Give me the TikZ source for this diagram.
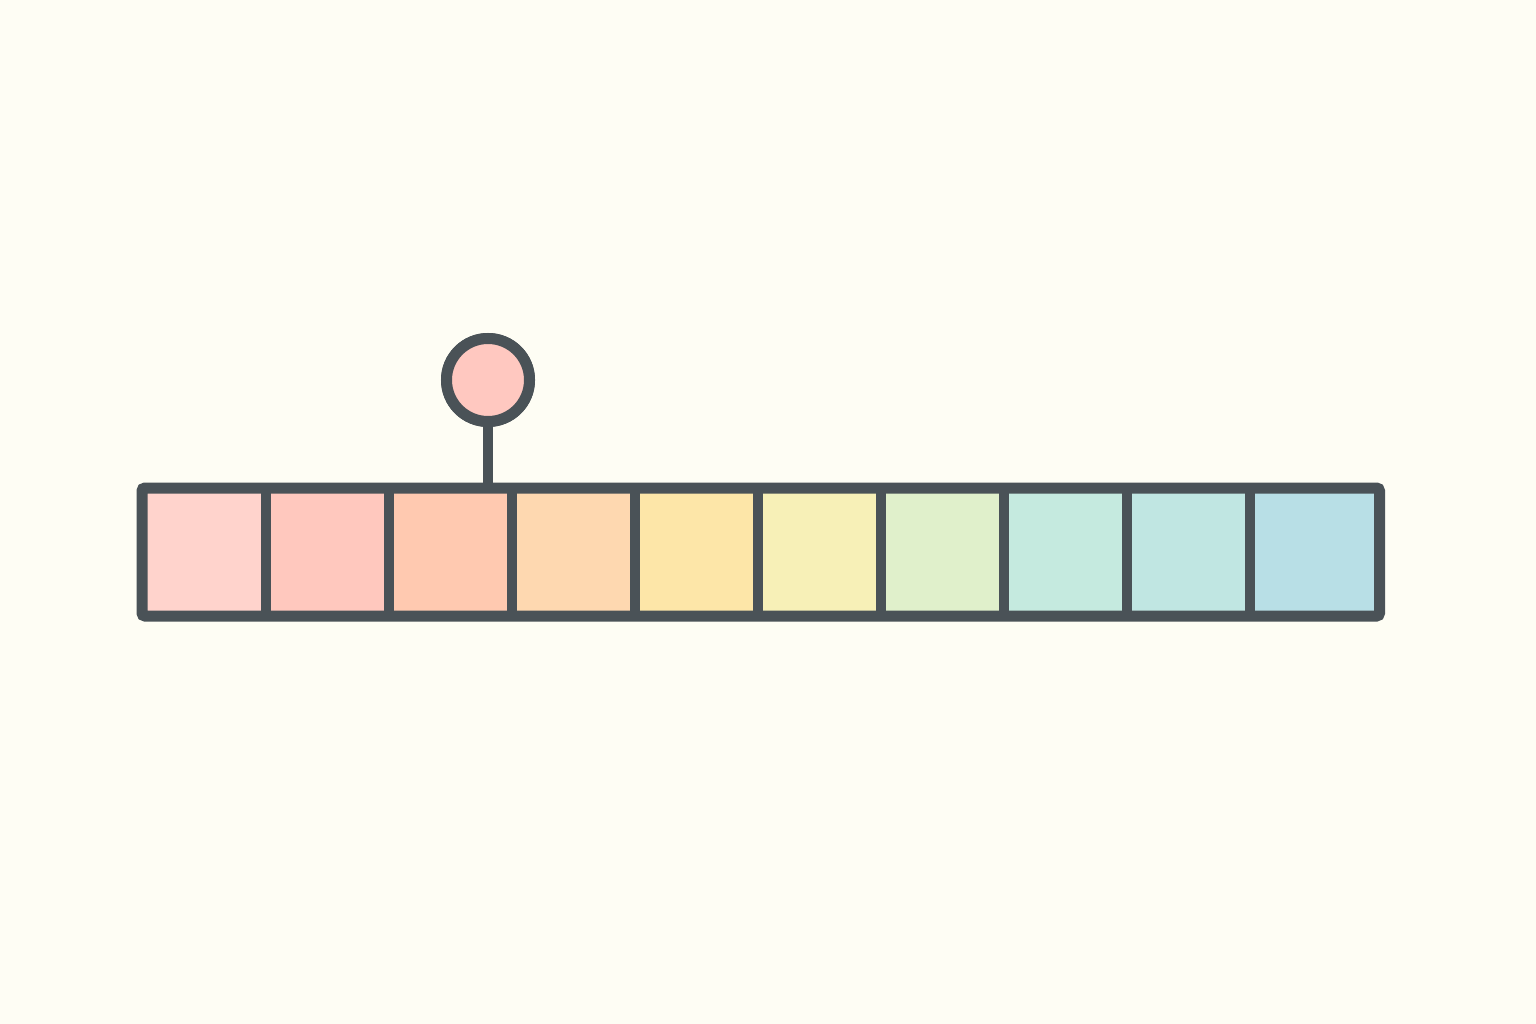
\documentclass[tikz,border=0pt]{standalone}
\usetikzlibrary{positioning}
\definecolor{bg}{HTML}{FEFDF4}
\definecolor{ink}{HTML}{4A5257}
\definecolor{c1}{HTML}{FFD3CC}
\definecolor{c2}{HTML}{FFC8BE}
\definecolor{c3}{HTML}{FFC9B0}
\definecolor{c4}{HTML}{FED8B0}
\definecolor{c5}{HTML}{FDE6A8}
\definecolor{c6}{HTML}{F7F0B7}
\definecolor{c7}{HTML}{E0F0CB}
\definecolor{c8}{HTML}{C5EADF}
\definecolor{c9}{HTML}{C0E6E2}
\definecolor{c10}{HTML}{B8DFE6}
\definecolor{pin}{HTML}{FFC8C0}
\tikzset{
  cellbox/.style={draw=none, inner sep=0pt, outer sep=0pt, anchor=north west},
  frame/.style={draw=ink, line width=11pt, rounded corners=3pt},
  divider/.style={draw=ink, line width=10pt},
  pinhead/.style={circle, draw=ink, fill=pin, line width=11pt, minimum size=83pt, inner sep=0pt, outer sep=0pt},
  stem/.style={draw=ink, line width=10pt}
}
\begin{document}
\begin{tikzpicture}[x=1pt,y=-1pt]
\fill[bg] (0,0) rectangle (1536,1024);
\useasboundingbox (0,0) rectangle (1536,1024);
% cell fills
\foreach \i/\a/\b in {1/142/266,2/266/389,3/389/512,4/512/635,5/635/758,6/758/881,7/881/1004,8/1004/1127,9/1127/1250,10/1250/1379.5}{
  \path[fill=c\i] (\a,488) rectangle (\b,616);
}
\node[cellbox, minimum width=1237.5pt, minimum height=128pt] (bar) at (142,488) {};
% dividers
\foreach \x in {266,389,512,635,758,881,1004,1127,1250}{
  \draw[divider] (\x,488) -- (\x,616);
}
\draw[frame] (bar.north west) rectangle (bar.south east);
% pin
\node[pinhead] (head) at (488,380) {};
\coordinate (foot) at (488,488);
\draw[stem] (head.south) -- (foot);
\node[pinhead] at (head) {};
\end{tikzpicture}
\end{document}
